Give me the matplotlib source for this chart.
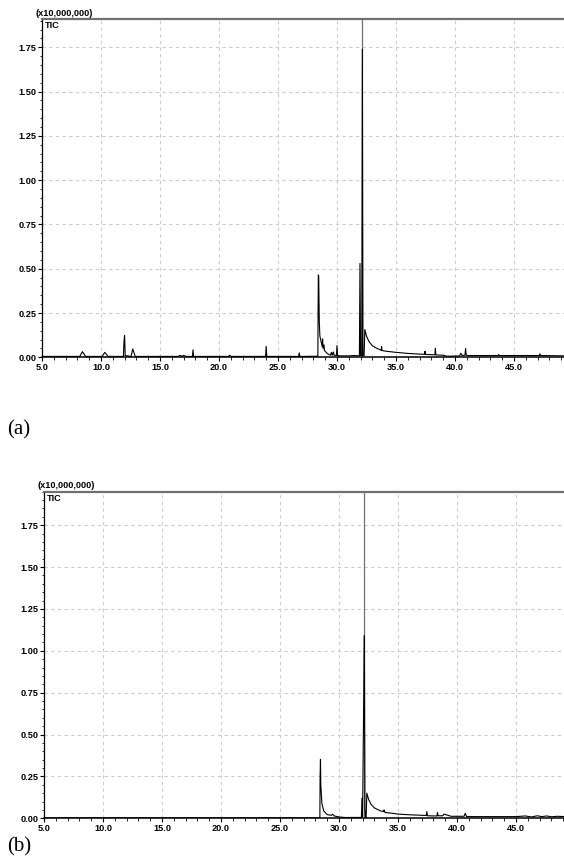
import matplotlib
matplotlib.use("Agg")
import matplotlib.pyplot as plt
from matplotlib.ticker import MultipleLocator, FormatStrFormatter

# retention time (min) and TIC intensity (x10,000,000)
time_a = [5.0, 8.2, 8.43, 8.7, 10.1, 10.32, 10.6, 11.9, 11.95, 12.0, 12.05,
          12.55, 12.69, 12.9, 16.5, 16.7, 16.9, 17.0, 17.2, 17.75, 17.8, 17.85,
          20.8, 20.9, 21.0, 23.95, 24.0, 24.05, 26.75, 26.8, 26.85,
          28.38, 28.4, 28.42, 28.45, 28.5, 28.55, 28.65, 28.75, 28.78, 28.82,
          28.9, 28.93, 28.98, 29.2, 29.45, 29.53, 29.6, 29.7, 29.75, 29.95,
          30.0, 30.05, 30.3, 31.0, 31.5, 31.9, 31.95, 32.0, 32.1, 32.15, 32.2,
          32.3, 32.36, 32.5, 32.7, 33.0, 33.4, 33.75, 33.78, 33.82, 34.2, 35.0,
          36.0, 37.0, 37.42, 37.46, 37.5, 38.0, 38.3, 38.34, 38.38, 39.0, 39.3,
          40.0, 40.4, 40.5, 40.6, 40.85, 40.9, 40.95, 41.1, 43.65, 43.7, 43.75,
          47.15, 47.2, 47.25, 49.2]
tic_a = [0.005, 0.005, 0.032, 0.005, 0.005, 0.028, 0.005, 0.005, 0.09, 0.123, 0.01,
         0.005, 0.047, 0.005, 0.005, 0.01, 0.006, 0.011, 0.005, 0.005, 0.042, 0.005,
         0.005, 0.012, 0.005, 0.005, 0.062, 0.005, 0.005, 0.025, 0.005,
         0.006, 0.27, 0.465, 0.46, 0.2, 0.12, 0.09, 0.06, 0.104, 0.05,
         0.07, 0.04, 0.035, 0.02, 0.012, 0.028, 0.012, 0.03, 0.012, 0.01,
         0.066, 0.01, 0.008, 0.008, 0.01, 0.008, 0.53, 0.01, 0.01, 1.74, 0.01,
         0.01, 0.157, 0.12, 0.09, 0.065, 0.05, 0.04, 0.06, 0.038, 0.034, 0.028,
         0.022, 0.018, 0.017, 0.034, 0.016, 0.015, 0.014, 0.051, 0.013, 0.012, 0.006,
         0.007, 0.008, 0.023, 0.01, 0.012, 0.05, 0.012, 0.01, 0.01, 0.016, 0.01,
         0.01, 0.02, 0.01, 0.008]

time_b = [5.0, 28.38, 28.4, 28.43, 28.46, 28.5, 28.55, 28.7, 29.0, 29.35, 29.45,
          29.6, 30.0, 30.5, 31.8, 31.9, 31.95, 32.0, 32.1, 32.15, 32.2, 32.25,
          32.3, 32.36, 32.5, 32.7, 33.0, 33.5, 33.78, 33.82, 33.9, 34.5, 35.0,
          36.0, 37.0, 37.4, 37.45, 37.5, 38.0, 38.3, 38.35, 38.4, 38.8, 38.9,
          39.5, 40.6, 40.7, 40.8, 41.5, 45.0, 45.8, 46.3, 46.8, 47.2, 47.6,
          48.0, 48.5, 49.2]
tic_b = [0.003, 0.003, 0.25, 0.352, 0.2, 0.15, 0.09, 0.045, 0.022, 0.018, 0.024,
         0.014, 0.008, 0.005, 0.005, 0.006, 0.12, 0.01, 0.75, 1.09, 0.05, 0.005,
         0.005, 0.15, 0.115, 0.085, 0.062, 0.045, 0.04, 0.05, 0.035, 0.03, 0.025,
         0.021, 0.018, 0.017, 0.04, 0.015, 0.014, 0.014, 0.035, 0.015, 0.015, 0.025,
         0.012, 0.012, 0.03, 0.011, 0.01, 0.01, 0.014, 0.008, 0.015, 0.01, 0.014,
         0.009, 0.012, 0.01]

main_peak = 32.15
panels = [
    # (times, values, axes rect, xmax, ymax, label, label y)
    (time_a, tic_a, [42/564, 1-357.3/865, 522/564, 338.3/865], 49.24, 1.91, "(a)", 1-430/865),
    (time_b, tic_b, [44/564, 1-818.3/865, 520/564, 326.6/865], 49.07, 1.95, "(b)", 1-847/865),
]

fig = plt.figure(figsize=(5.64, 8.65), dpi=100)
tfam, tsize = "Liberation Sans", 6.6

for t, y, rect, xmax, ymax, lab, laby in panels:
    ax = fig.add_axes(rect)
    ax.axvline(main_peak, color="#707070", lw=0.9, zorder=2)
    ax.plot(t, y, color="black", lw=0.8, zorder=3)
    ax.set_xlim(5.0, xmax)
    ax.set_ylim(0, ymax)
    ax.xaxis.set_major_locator(MultipleLocator(5))
    ax.xaxis.set_minor_locator(MultipleLocator(1))
    ax.yaxis.set_major_locator(MultipleLocator(0.25))
    ax.yaxis.set_minor_locator(MultipleLocator(0.05))
    ax.xaxis.set_major_formatter(FormatStrFormatter("%.1f"))
    ax.yaxis.set_major_formatter(FormatStrFormatter("%.2f"))
    ax.grid(True, which="major", color="#cccccc", ls=(0, (3, 3)), lw=0.8)
    ax.set_axisbelow(True)
    ax.tick_params(which="major", direction="out", length=3, width=0.8, pad=1)
    ax.tick_params(which="minor", direction="out", length=1.8, width=0.6)
    for lbl in ax.get_xticklabels() + ax.get_yticklabels():
        lbl.set_fontfamily(tfam)
        lbl.set_fontsize(tsize)
        lbl.set_fontweight("bold")
    ax.spines["right"].set_visible(False)
    ax.spines["top"].set_color("#707070")
    ax.spines["top"].set_linewidth(1.6)
    ax.spines["left"].set_linewidth(0.9)
    ax.spines["bottom"].set_linewidth(1.1)
    ax.text(-0.013, 1.004, "(x10,000,000)", transform=ax.transAxes, ha="left", va="bottom",
            fontsize=tsize, fontweight="bold", family=tfam)
    ax.text(0.005, 0.993, "TIC", transform=ax.transAxes, ha="left", va="top",
            fontsize=tsize, fontweight="bold", family=tfam)
    fig.text(7/564, laby, lab, ha="left", va="center", fontsize=15, family="Liberation Serif")

fig.savefig("out.png", dpi=100)
